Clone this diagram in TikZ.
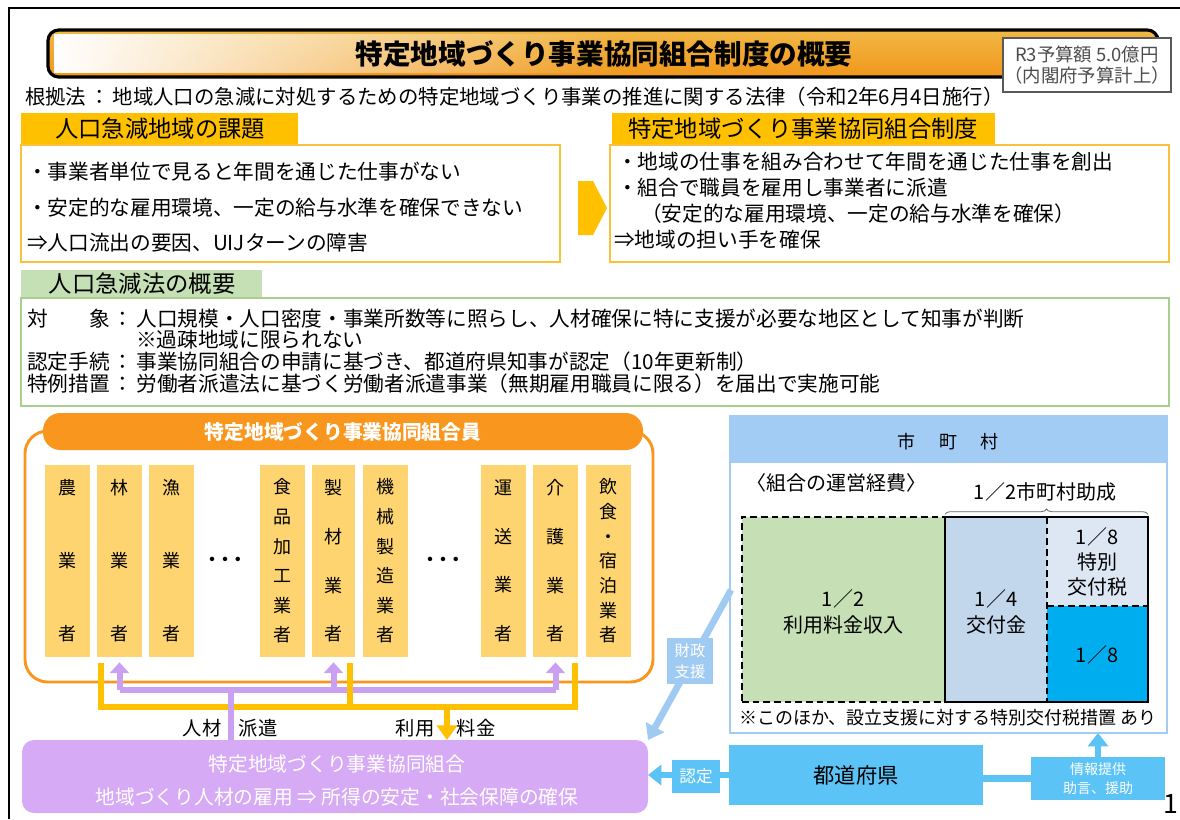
\documentclass[tikz,border=0pt]{standalone}
\usepackage{fontspec}
\setmainfont{Noto Sans CJK JP}
\usetikzlibrary{arrows.meta,decorations.pathreplacing,fadings,fit,calc}
\newcommand\myfs[1]{\fontsize{#1}{#1}\selectfont}
\newcommand\myfsb[2]{\fontsize{#1}{#2}\selectfont}
\definecolor{gold}{HTML}{FFC000}
\definecolor{goldln}{HTML}{F9C23C}
\definecolor{greenhd}{HTML}{C5E0B4}
\definecolor{greenln}{HTML}{A9CF8E}
\definecolor{colfill}{HTML}{FDD470}
\definecolor{orng}{HTML}{F9961E}
\definecolor{purp}{HTML}{D7AAF6}
\definecolor{lav}{HTML}{C9A0F2}
\definecolor{cityhd}{HTML}{A3CCF5}
\definecolor{costgreen}{HTML}{C6DFB4}
\definecolor{costblue}{HTML}{C2D6EC}
\definecolor{costpale}{HTML}{DDE7F3}
\definecolor{costbright}{HTML}{00AEEF}
\definecolor{sky}{HTML}{5CC3F6}
\definecolor{finblue}{HTML}{9FCAF2}
\definecolor{bTop}{HTML}{F2B845}
\definecolor{bMid}{HTML}{FFF6E2}
\definecolor{bBot}{HTML}{F0961A}
\tikzfading[name=fadeR, left color=transparent!0, right color=transparent!100]
\begin{document}
\begin{tikzpicture}[x=0.75pt,y=-0.75pt,
  every node/.style={inner sep=0pt,outer sep=0pt},
  box/.style={fit={#1}, inner sep=0pt},
  hdtext/.style={font=\myfs{17.5pt}},
  bodyl/.style={font=\myfs{15.5pt}, anchor=west},
  lawl/.style={font=\myfs{15.5pt}, anchor=west},
  coltext/.style={font=\myfsb{13.5pt}{#1}, align=center},
  colbox/.style={fill=colfill},
  costtext/.style={font=\myfsb{15pt}{19pt}, align=center},
  wlabel/.style={text=white, align=center},
  goldpipe/.style={draw=gold, line width=4.5pt},
  lavpipe/.style={draw=lav, line width=4.5pt},
  lavarr/.style={draw=lav, line width=4.5pt, -{Triangle[width=14pt,length=8pt]}},
  goldarr/.style={draw=gold, line width=4.5pt, -{Triangle[width=15pt,length=11pt]}},
  skyarr/.style={draw=sky, line width=5pt, -{Triangle[width=15pt,length=10pt]}},
  finarr/.style={draw=finblue, line width=5pt, -{Triangle[width=15pt,length=11pt]}}
]
\useasboundingbox (0,0) rectangle (1180,819);
\fill[white] (0,0) rectangle (1180,819);
% frame
\draw[line width=1.2pt] (9,819) -- (9,8) -- (1180,8);

% title banner
\node[box={(48,30)(1158,77)}, rounded corners=8pt, top color=bTop, middle color=bMid, bottom color=bBot, draw=black, line width=2.4pt] (banner) {};
\fill[white, path fading=fadeR] (54,34) rectangle (620,73);
\node[font=\bfseries\myfs{20.7pt}] (title) at (604,54) {特定地域づくり事業協同組合制度の概要};

% budget box
\node[box={(1003,38)(1171,92)}, fill=white, draw=gray!70!black, line width=0.8pt] (budget) {};
\node[font=\myfsb{13.8pt}{15.5pt}, text=black!70, align=center] (budgett) at (budget) {R3予算額 5.0億円\\（内閣府予算計上）};

% law
\node[font=\myfs{15.3pt}, anchor=west] (law) at (25,97) {根拠法\makebox[1.3em]{：}地域人口の急減に対処するための特定地域づくり事業の推進に関する法律（令和2年6月4日施行）};

% left section
\node[box={(21,113)(298,145)}, fill=gold] (hd1) {};
\node[hdtext] (hd1t) at (160,129) {人口急減地域の課題};
\node[box={(21,145)(560,262)}, draw=goldln, line width=2pt, fill=white] (box1) {};
\node[bodyl] (b1l1) at (27,172) {・事業者単位で見ると年間を通じた仕事がない};
\node[bodyl] (b1l2) at (27,208) {・安定的な雇用環境、一定の給与水準を確保できない};
\node[bodyl] (b1l3) at (27,243) {⇒人口流出の要因、UIJターンの障害};

% chevron arrow
\fill[gold] (578,181) -- (593,181) -- (607,208) -- (593,235) -- (578,235) -- cycle;

% right section
\node[box={(612,113)(995,145)}, fill=gold] (hd2) {};
\node[hdtext] (hd2t) at (803,129) {特定地域づくり事業協同組合制度};
\node[box={(610,145)(1169,262)}, draw=goldln, line width=2pt, fill=white] (box2) {};
\node[bodyl] (b2l1) at (617,162) {・地域の仕事を組み合わせて年間を通じた仕事を創出};
\node[bodyl] (b2l2) at (617,188) {・組合で職員を雇用し事業者に派遣};
\node[bodyl] (b2l3) at (641,214) {（安定的な雇用環境、一定の給与水準を確保）};
\node[bodyl] (b2l4) at (614,240) {⇒地域の担い手を確保};

% green section
\node[box={(21,270)(262,298)}, fill=greenhd] (hd3) {};
\node[hdtext] (hd3t) at (142,284) {人口急減法の概要};
\node[box={(21,298)(1169,406)}, draw=greenln, line width=1.5pt, fill=white] (box3) {};
\node[lawl] (g1) at (27,319) {対\hspace{2em}象\makebox[1.3em]{：}人口規模・人口密度・事業所数等に照らし、人材確保に特に支援が必要な地区として知事が判断};
\node[lawl] (g2) at (136,340) {※過疎地域に限られない};
\node[lawl] (g3) at (27,362) {認定手続\makebox[1.3em]{：}事業協同組合の申請に基づき、都道府県知事が認定（10年更新制）};
\node[lawl] (g4) at (27,384) {特例措置\makebox[1.3em]{：}労働者派遣法に基づく労働者派遣事業（無期雇用職員に限る）を届出で実施可能};

% members outline and header
\draw[orng, line width=2.2pt, rounded corners=17pt] (80,431) -- (25,431) -- (25,682) -- (653,682) -- (653,431) -- (600,431);
\node[box={(43,413)(643,450)}, fill=orng, rounded corners=13pt] (memhd) {};
\node[font=\bfseries\myfs{14.8pt}, text=white] (memhdt) at (343,432) {特定地域づくり事業協同組合員};

% columns
\node[box={(45,465)(90,657)}, colbox] (c1) {};
\node[coltext=54.75pt] (c1t) at (c1) {農\\業\\者};
\node[box={(97,465)(142,657)}, colbox] (c2) {};
\node[coltext=54.75pt] (c2t) at (c2) {林\\業\\者};
\node[box={(149,465)(194,657)}, colbox] (c3) {};
\node[coltext=54.75pt] (c3t) at (c3) {漁\\業\\者};
\node[font=\bfseries\myfs{12pt}] (dots1) at (225,561) {・\kern-0.2em・\kern-0.2em・};
\node[box={(260,465)(305,657)}, colbox] (c4) {};
\node[coltext=22.2pt] (c4t) at (c4) {食\\品\\加\\工\\業\\者};
\node[box={(312,465)(355,657)}, colbox] (c5) {};
\node[coltext=36.5pt] (c5t) at (c5) {製\\材\\業\\者};
\node[box={(363,465)(408,657)}, colbox] (c6) {};
\node[coltext=22.2pt] (c6t) at (c6) {機\\械\\製\\造\\業\\者};
\node[font=\bfseries\myfs{12pt}] (dots2) at (443,561) {・\kern-0.2em・\kern-0.2em・};
\node[box={(481,465)(526,657)}, colbox] (c7) {};
\node[coltext=36.5pt] (c7t) at (c7) {運\\送\\業\\者};
\node[box={(533,465)(578,657)}, colbox] (c8) {};
\node[coltext=36.5pt] (c8t) at (c8) {介\\護\\業\\者};
\node[box={(586,465)(631,657)}, colbox] (c9) {};
\node[coltext=18.5pt] (c9t) at (c9) {飲\\食\\・\\宿\\泊\\業\\者};

% cooperative box
\node[box={(22,740)(648,813)}, fill=purp, rounded corners=9pt] (coop) {};
\node[font=\myfs{14.8pt}, text=white] (coopt1) at (337,764) {特定地域づくり事業協同組合};
\node[font=\myfs{14.8pt}, text=white] (coopt2) at (337,797) {地域づくり人材の雇用 ⇒ 所得の安定・社会保障の確保};

% flow pipes
\coordinate (gL) at (101,663);
\coordinate (gM) at (350,663);
\coordinate (gR) at (575,663);
\coordinate (gD) at (447,707);
\coordinate (lJ) at (231,690);
\coordinate (lL) at (119.5,690);
\coordinate (lM) at (333.5,690);
\coordinate (lR) at (555.5,690);
\draw[goldpipe] (gL) -- (gL |- gD) -- (gR |- gD) -- (gR);
\draw[goldpipe] (gM) -- (gM |- gD);
\draw[goldarr] (gD) -- (gD |- coop.north);
\draw[lavpipe] (coop.north -| lJ) -- (lJ);
\draw[lavpipe] (lL) -- (lR);
\draw[lavarr] (lL) -- ([yshift=-4pt]c2.south);
\draw[lavarr] (lM) -- ([yshift=-4pt]c5.south);
\draw[lavarr] (lR) -- ([yshift=-4pt]c8.south);
\draw[goldpipe] (gM) -- (gM |- gD);
\node[font=\myfs{14.5pt}] (jin) at (202,728) {人材};
\node[font=\myfs{14.5pt}] (haken) at (258,728) {派遣};
\node[font=\myfs{14.5pt}] (riyo) at (415,728) {利用};
\node[font=\myfs{14.5pt}] (ryokin) at (476,728) {料金};

% municipality panel
\node[box={(730,416)(1167,733)}, draw=cityhd, line width=1.5pt, fill=white] (city) {};
\node[box={(730,416)(1167,463)}, fill=cityhd] (cityhd) {};
\node[font=\myfs{13.5pt}] (cityt) at (948,442) {市\hspace{1.3em}町\hspace{1.3em}村};
\node[font=\myfs{15pt}, anchor=west] (costt) at (746,483) {〈組合の運営経費〉};
\node[font=\myfs{15pt}] (halft) at (1045,492) {1／2市町村助成};
\node[box={(742,517)(945,702)}, fill=costgreen, draw=black, dash pattern=on 5pt off 3pt, line width=1.1pt] (cg) {};
\node[box={(945,517)(1047,702)}, fill=costblue] (cb) {};
\node[box={(1047,517)(1148,606)}, fill=costpale] (cp) {};
\node[box={(1047,606)(1148,702)}, fill=costbright] (cbr) {};
\draw[line width=1.1pt] (cb.south west) -- (cb.north west) -- (cp.north east) -- (cbr.south east) -- cycle;
\draw[line width=1.1pt, dash pattern=on 5pt off 3pt] (cb.north east) -- (cb.south east);
\draw[line width=1.1pt, dash pattern=on 5pt off 3pt] (cp.south west) -- (cp.south east);
\draw[decorate, decoration={brace, amplitude=4pt}, black!60, line width=0.6pt] ([yshift=2pt]cb.north west) -- ([yshift=2pt]cp.north east);
\node[costtext] (cgt) at (843,612) {1／2\\利用料金収入};
\node[costtext] (cbt) at (996,612) {1／4\\交付金};
\node[costtext] (cpt) at (1097,562) {1／8\\特別\\交付税};
\node[costtext] (cbrt) at (1097,655) {1／8};
\node[font=\myfs{13.5pt}] (note) at (948,718) {※このほか、設立支援に対する特別交付税措置 あり};

% prefecture
\node[box={(729,745)(983,805)}, fill=sky] (pref) {};
\node[font=\myfs{16pt}] (preft) at (pref) {都道府県};
\node[box={(1031,757)(1165,800)}, fill=sky] (info) {};
\draw[draw=sky, line width=5pt] (info.west) -- (info.west -| pref.east);
\draw[skyarr] (info.north) -- (info.north |- city.south);
\node[font=\myfsb{10.5pt}{14pt}, wlabel] (infot) at (info) {情報提供\\助言、援助};

% certification
\draw[skyarr] (pref.west) -- (pref.west -| coop.east);
\node[box={(672,760)(720,793)}, fill=sky] (cert) {};
\node[font=\myfs{12.5pt}, wlabel] (certt) at (cert) {認定};

% financial support
\coordinate (finS) at (731,590);
\draw[finarr] (finS) -- (coop.north east);
\node[box={(667,638)(713,684)}, fill=finblue] (fin) {};
\node[font=\myfsb{11.5pt}{16pt}, wlabel] (fint) at (fin) {財政\\支援};

% page number
\node[font=\myfs{20pt}] (pgno) at (1171,804) {1};
\end{tikzpicture}
\end{document}
